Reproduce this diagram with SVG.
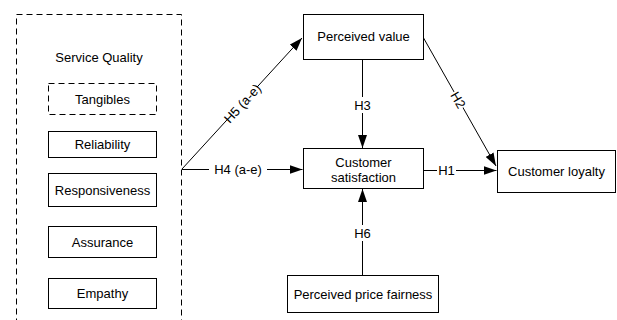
<svg xmlns="http://www.w3.org/2000/svg" width="617" height="320" viewBox="0 0 617 320">
<style>
text{font-family:"Liberation Sans",Arial,sans-serif;font-size:13px;fill:#000;text-anchor:middle}
.box{fill:#fff;stroke:#000;stroke-width:1}
.dash{fill:none;stroke:#000;stroke-width:1;stroke-dasharray:6,4}
.dashbox{fill:#fff;stroke:#000;stroke-width:1;stroke-dasharray:6,4}
.edge{fill:none;stroke:#000;stroke-width:1}
.arr{marker-end:url(#ah)}
.lbl{fill:#fff;stroke:none}
</style>
<defs>
<marker id="ah" markerUnits="userSpaceOnUse" markerWidth="13" markerHeight="9" refX="13" refY="4.5" orient="auto">
<path d="M0,0 L13,4.5 L0,9 z" fill="#000"/>
</marker>
</defs>
<rect width="617" height="320" fill="#fff"/>
<g id="service-quality">
<rect class="dash" x="16.5" y="14.5" width="165" height="320"/>
<text x="99" y="61.5">Service Quality</text>
</g>
<g id="tangibles"><rect class="dashbox" x="48.5" y="83.5" width="108" height="31"/><text x="102.5" y="103.5">Tangibles</text></g>
<g id="reliability"><rect class="box" x="48.5" y="131.5" width="108" height="26"/><text x="102.5" y="148.5">Reliability</text></g>
<g id="responsiveness"><rect class="box" x="48.5" y="173.5" width="108" height="33"/><text x="102.5" y="194.5">Responsiveness</text></g>
<g id="assurance"><rect class="box" x="48.5" y="226.5" width="108" height="31"/><text x="102.5" y="246.5">Assurance</text></g>
<g id="empathy"><rect class="box" x="48.5" y="278.5" width="108" height="30"/><text x="102.5" y="298">Empathy</text></g>
<g id="connectors">
<line class="edge arr" x1="182" y1="169" x2="302" y2="38"/>
<line class="edge arr" x1="182" y1="169.5" x2="302.5" y2="169.5"/>
<line class="edge arr" x1="362.5" y1="59" x2="362.5" y2="148"/>
<line class="edge arr" x1="362.5" y1="275" x2="362.5" y2="189"/>
<line class="edge arr" x1="423" y1="170.5" x2="496.5" y2="170.5"/>
<line class="edge arr" x1="423" y1="37" x2="496" y2="166"/>
<g transform="translate(242.5,103.5) rotate(-47.5)"><rect class="lbl" x="-22" y="-7" width="44" height="14"/><text x="0" y="4.5">H5 (a-e)</text></g>
<g><rect class="lbl" x="209" y="163" width="58" height="14"/><text x="238" y="174">H4 (a-e)</text></g>
<g><rect class="lbl" x="354" y="97" width="17" height="16"/><text x="362.5" y="109.5">H3</text></g>
<g><rect class="lbl" x="354" y="225" width="17" height="16"/><text x="362.5" y="237.5">H6</text></g>
<g><rect class="lbl" x="437" y="163" width="19" height="14"/><text x="446.5" y="175">H1</text></g>
<g transform="translate(458,100) rotate(60)"><rect class="lbl" x="-9" y="-7" width="18" height="14"/><text x="0" y="4.5">H2</text></g>
</g>
<g id="perceived-value"><rect class="box" x="303.5" y="14.5" width="120" height="45"/><text x="363.5" y="41">Perceived value</text></g>
<g id="customer-satisfaction"><rect class="box" x="303.5" y="148.5" width="120" height="40"/><text x="363.5" y="166.5">Customer</text><text x="363.5" y="181.5">satisfaction</text></g>
<g id="customer-loyalty"><rect class="box" x="497.5" y="150.5" width="118" height="42"/><text x="556.5" y="176">Customer loyalty</text></g>
<g id="perceived-price-fairness"><rect class="box" x="287.5" y="275.5" width="151" height="37"/><text x="363" y="299">Perceived price fairness</text></g>
</svg>
